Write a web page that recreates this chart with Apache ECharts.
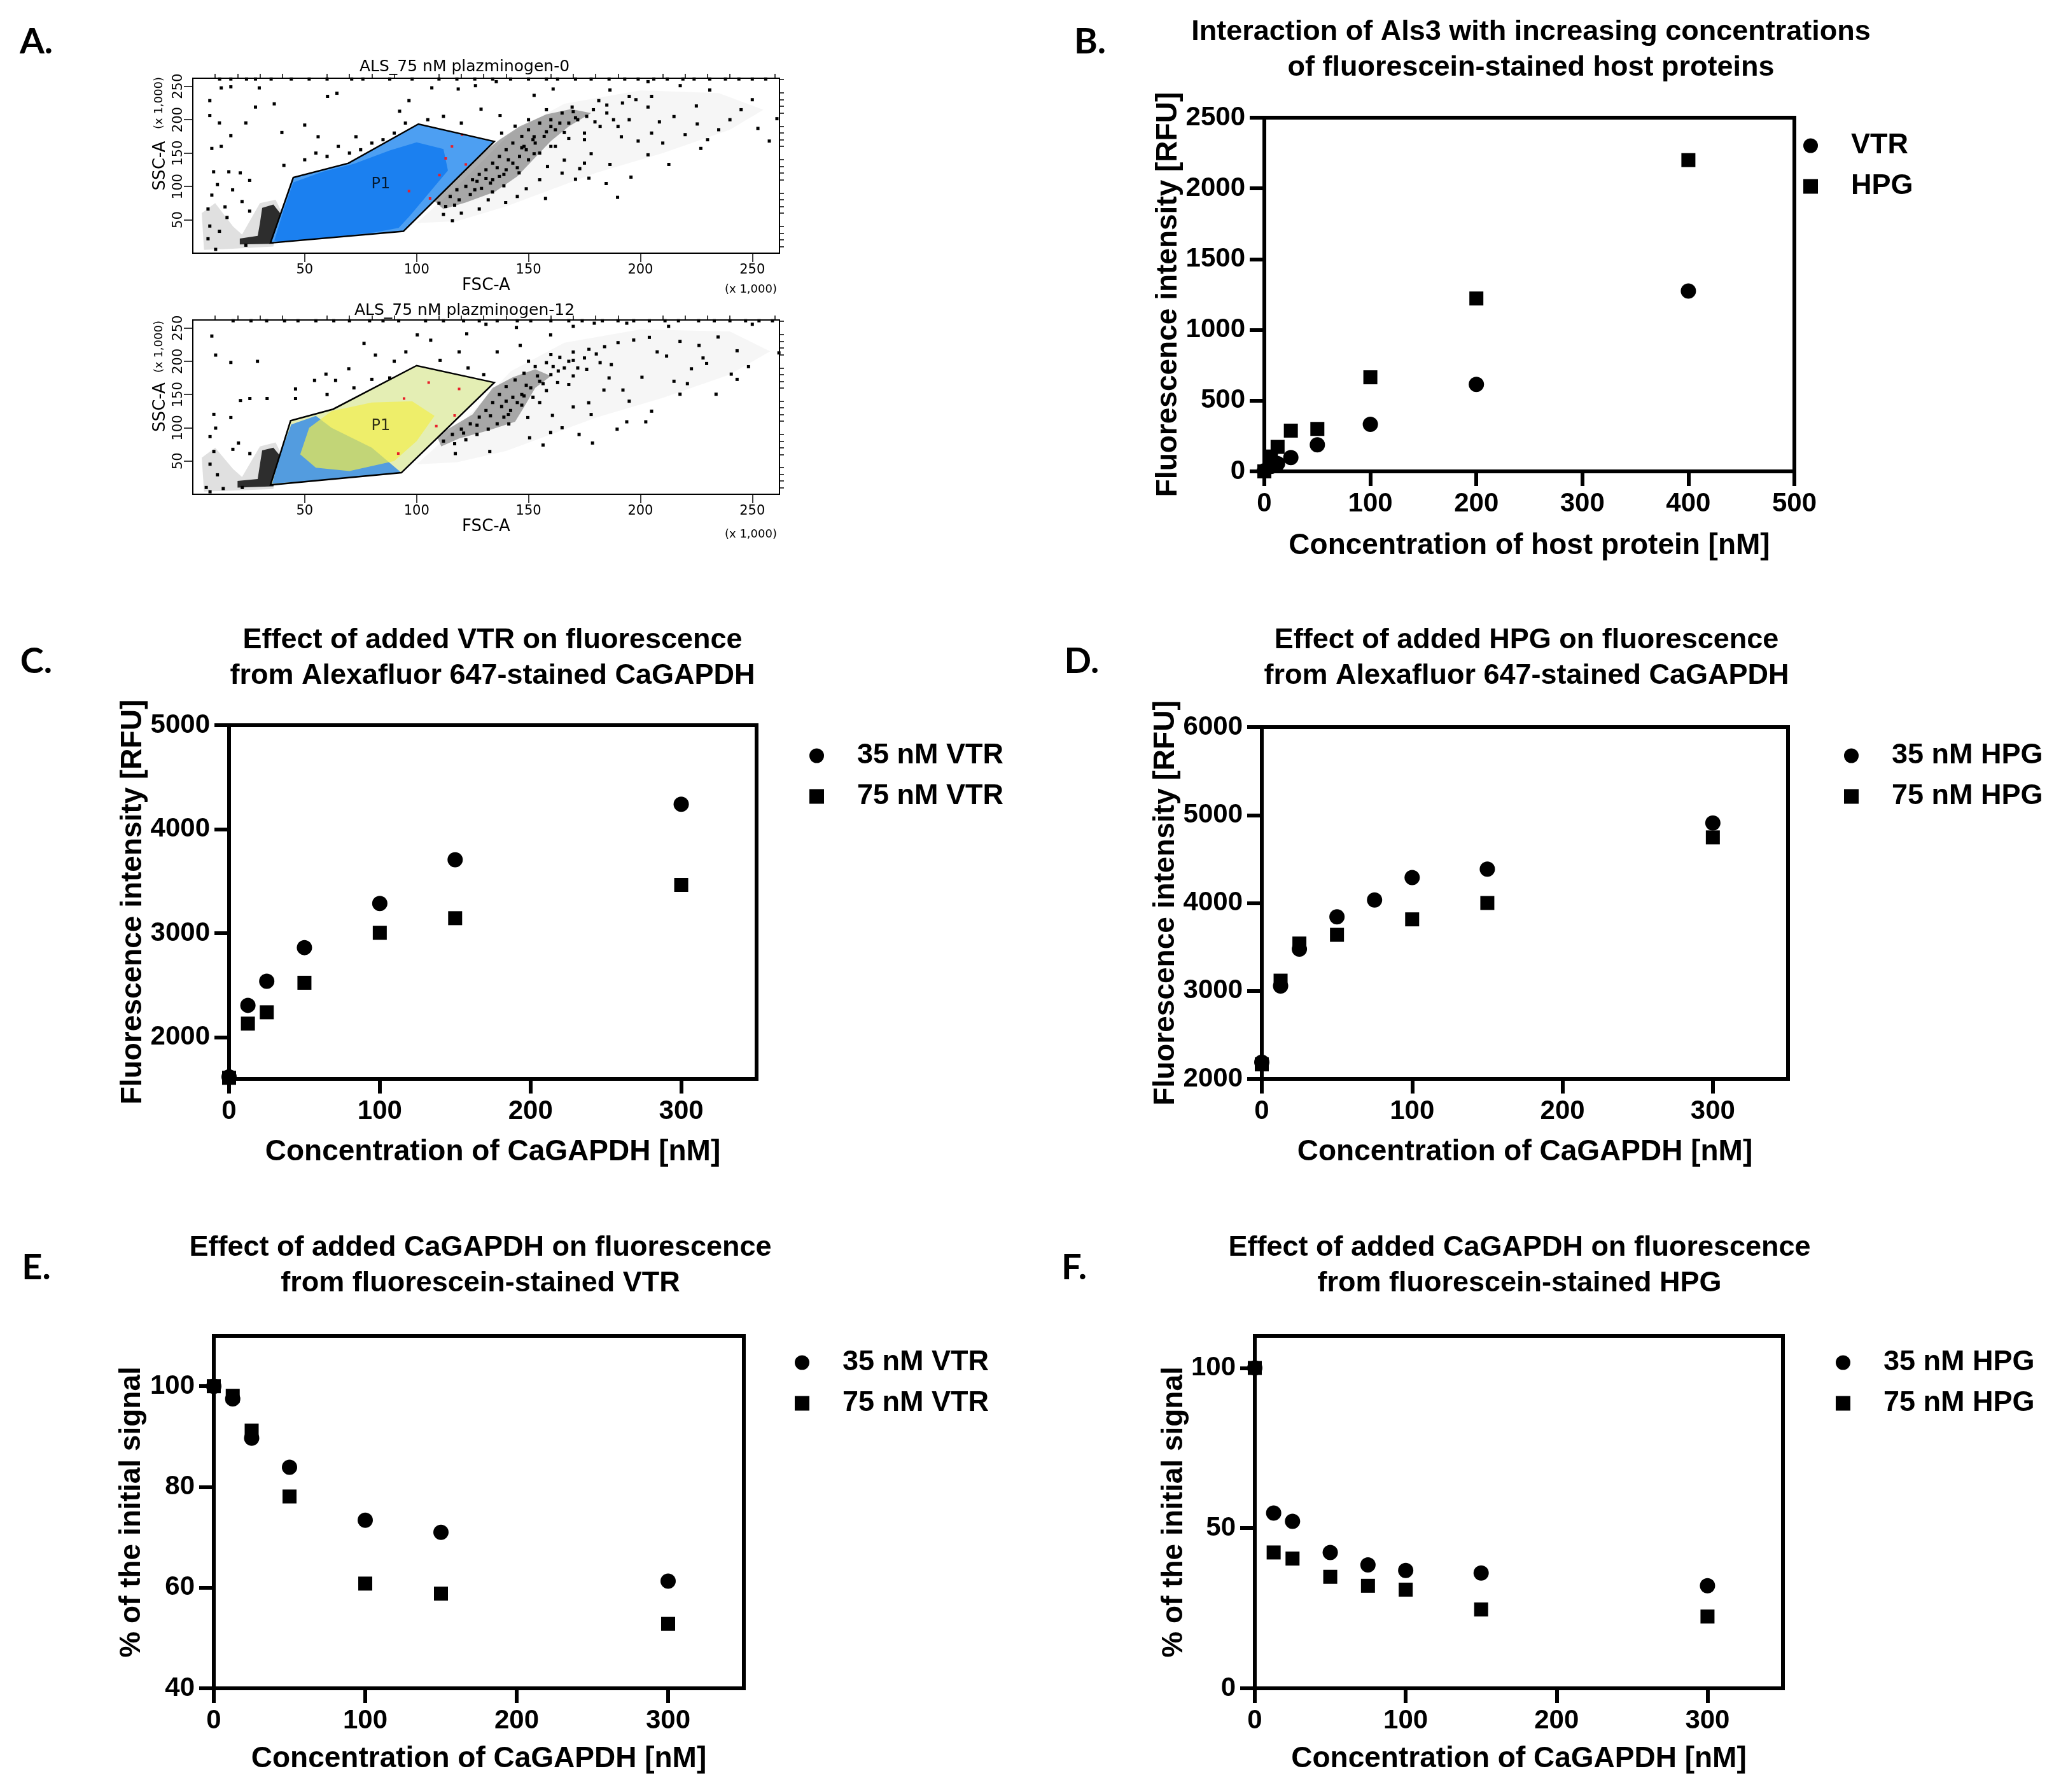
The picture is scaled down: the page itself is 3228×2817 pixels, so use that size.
<!DOCTYPE html>
<html>
<head>
<meta charset="utf-8">
<script src="https://cdn.jsdelivr.net/npm/echarts@6/dist/echarts.min.js"></script>
<style>
html,body{margin:0;padding:0;background:#fff}
#container{width:3228px;height:2817px}
</style>
</head>
<body>
<div id="container"></div>
<script>
// ---- B: Als3 + fluorescein host proteins ----
var bConc = [0, 6.25, 12.5, 25, 50, 100, 200, 400];
var bVTR = [5, 35, 55, 98, 188, 333, 615, 1275];
var bHPG = [0, 105, 173, 288, 300, 665, 1222, 2200];
var bXTicks = [0, 100, 200, 300, 400, 500];
var bYTicks = [0, 500, 1000, 1500, 2000, 2500];

// ---- C: VTR added to CaGAPDH ----
var cConc = [0, 12.5, 25, 50, 100, 150, 300];
var c35 = [1620, 2307, 2539, 2862, 3286, 3706, 4240];
var c75 = [1610, 2132, 2240, 2524, 3004, 3145, 3465];
var cXTicks = [0, 100, 200, 300];
var cYTicks = [2000, 3000, 4000, 5000];

// ---- D: HPG added to CaGAPDH ----
var dConc = [0, 12.5, 25, 50, 75, 100, 150, 300];
var d35 = [2190, 3056, 3476, 3842, 4035, 4290, 4385, 4910];
var d75 = [2165, 3117, 3539, 3638, null, 3814, 4000, 4746];
var dYTicks = [2000, 3000, 4000, 5000, 6000];

// ---- E: CaGAPDH added to VTR ----
var eConc = [0, 12.5, 25, 50, 100, 150, 300];
var e35 = [100, 97.5, 89.7, 83.9, 73.4, 71.0, 61.3];
var e75 = [100, 98.1, 91.2, 78.1, 60.8, 58.8, 52.8];
var eYTicks = [40, 60, 80, 100];

// ---- F: CaGAPDH added to HPG ----
var fConc = [0, 12.5, 25, 50, 75, 100, 150, 300];
var f35 = [100, 54.7, 52.1, 42.4, 38.5, 36.8, 36.0, 32.0];
var f75 = [100, 42.4, 40.5, 34.8, 32.0, 30.8, 24.6, 22.4];
var fYTicks = [0, 50, 100];

// ---- A: flow cytometry (FSC-A / SSC-A, x1000) ----
var aMajorTicks = [50, 100, 150, 200, 250];
var aMinorTicks = [10, 20, 30, 40, 60, 70, 80, 90, 110, 120, 130, 140, 160, 170, 180, 190, 210, 220, 230, 240, 260];

var gate1 = [[34.7,15.3],[44.9,113.3],[69.5,134.7],[100.8,193.5],[134.7,167.4],[94.1,32.8]];
var core1 = [[36.4,18.5],[40.7,66],[44.9,106],[58,122],[72,134],[88,154],[100,166],[112,156],[114,124],[106,92],[97,56],[92,38],[81.4,31.2],[59.3,23.2],[39,16.9]];
var dense1 = [[108,78],[120,124],[130,151],[137,170],[146,190],[158,208],[169,216],[178,210],[168,190],[160,168],[152,140],[145,115],[135,92],[122,76],[112,66]];
var light1 = [[100,45],[118,100],[142,180],[166,224],[200,244],[235,240],[255,215],[240,185],[210,150],[180,120],[160,95],[140,70],[118,48]];
var cluster1 = [[21,13],[21,22],[29,26],[30,45],[31,68],[36,73],[39,60],[36,14]];
var haze1 = [[5,5],[4,60],[10,75],[18,40],[22,28],[30,75],[37,80],[40,60],[36,10],[14,6]];
var red1 = [[115.8,160],[122,133],[110.2,117],[106,82],[96.6,93],[120.3,177.6],[113,142]];
var edge1 = [12,17,24,28,35,44,52,60,71,76,88,98,110,118,126,134,142,150,158,163,171,178,186,193,199,206,212,219,224,231,238,244,250,256];
var dots1 = [[250,230],[257.6,168],[261,201.5],[252.5,187],[231,244.5],[225,220.6],[227,157],[212.7,133],[215,204.7],[220,177.6],[203.4,147.4],[195.8,114],[189.8,83.7],[184.7,104.4],[177,112.4],[171,110.8],[157.6,82],[149,96.5],[139.8,75.8],[128,66.2],[116,48.7],[195,235],[186.4,244.5],[203.4,257],[217.8,251],[179.7,196.7],[169.5,219],[161,246],[152.5,236.5],[135.6,257],[126.3,251],[118.6,246],[106.8,247.8],[96.6,228.6],[92.4,212.7],[72.9,174.5],[56,174.5],[50,192],[39.8,180.8],[29.7,247.7],[17,249.3],[12.7,247.7],[7.6,228.6],[7.6,206.3],[11.9,195.2],[23.7,195.2],[28,219],[36.4,223.8],[60.2,235],[64.4,239.7],[8.5,157],[12.7,160],[17,176],[40.7,131.5],[9.3,122],[16.1,122],[21.2,120.3],[25.4,109.2],[11,102.8],[8.5,87],[17.8,94.9],[22,77.4],[6.8,66.2],[14.4,69.4],[15.3,53.5],[7.6,40.7],[11.9,32.8],[6.8,21.6],[10.2,5.7],[23.7,12],[25.4,63],[139,101],[133.9,91.7],[127,107.6],[145.8,120.3],[158.5,130],[166,139.4],[178,149],[191.5,174.5],[199,168],[208.5,196.7],[225.4,193.6],[166,180.8],[152.5,174.5],[144,190.4],[128.8,215.8],[137.3,206.3],[181.4,228.6],[203.4,219],[152.5,149],[186.4,133],[172.9,126.7],[150,200],[158,215],[172,200],[185,210],[190,190],[175,170],[160,160],[148,160],[138,180],[165,120],[175,135],[155,110],[145,85],[132,80],[120,60],[112,58],[160,190],[195,200],[205,180],[210,165],[230,170],[240,200],[245,215],[235,185],[50,140],[55,150],[60,145],[65,160],[75,155],[80,165],[85,170],[90,180],[95,195],[105,200],[112,205],[120,195],[70,150],
	[110,75],[115,85],[118,95],[122,100],[125,110],[128,118],[131,125],[134,135],[137,145],[140,155],[143,165],[147,175],[150,185],[155,195],[160,200],[165,210],[170,212],[176,205],[168,195],[162,185],[157,175],[153,165],[149,155],[146,145],[143,135],[140,125],[137,115],[133,105],[129,97],[124,88],[119,80],[113,70],[117,72],[126,95],[131,112],[136,128],[141,140],[147,158],[152,170],[158,182],[164,195],[171,203],[179,215],[185,222],[192,225],[198,230],[205,235],[188,200],[182,190],[175,180],[168,172],[162,160],[155,150],[150,140],[145,128],[139,118],[134,110]];

var gate2 = [[34.7,14.0],[43.7,110.6],[62.7,128],[100,193.5],[134.7,168],[93.2,32.5]];
var blue2 = [[35.5,16],[39,60],[44,105],[55,118],[62,100],[80,70],[93,33],[60,22]];
var yellow2 = [[48,60],[52,100],[62,125],[80,138],[98,140],[108,118],[100,80],[90,50],[70,35],[55,40]];
var dense2 = [[109,88],[125,120],[134,160],[143,176],[153,188],[160,178],[153,160],[148,131],[144,109],[132,96],[119,84],[111,72]];
var light2 = [[100,45],[118,100],[142,185],[166,228],[200,248],[240,245],[258,215],[240,180],[210,145],[180,115],[160,90],[140,65],[118,48]];
var cluster2 = [[20,10],[20,20],[29,23],[30,45],[31,66],[36,70],[39,58],[36,12]];
var haze2 = [[5,4],[4,55],[10,70],[18,38],[22,26],[30,72],[37,78],[40,58],[36,8],[14,5]];
var red2 = [[117,118.6],[108.8,102.6],[94.4,144],[91.8,61.2],[119,158.4],[105.4,168]];
var edge2 = [18,26,33,41,47,55,63,70,79,85,92,104,112,121,128,136,145,151,160,168,174,183,190,197,204,211,217,226,233,240,247,253,259];
var dots2 = [[8.5,238],[10.2,209.4],[17,198.3],[28.9,199.9],[21.3,141],[25.5,144],[33.2,144],[45.9,144],[45.9,158.4],[54.4,171.2],[76.5,227],[59.5,180.7],[63.8,171.2],[100.3,239.7],[106.3,231.7],[122.4,241.3],[131,255.7],[144.6,250.9],[159.9,239.7],[170,252.5],[179.4,257.3],[193.9,257.3],[212.6,252.5],[217.7,230],[226.2,223.8],[234.7,236.5],[243.2,215.8],[248.3,191.9],[261.9,212.6],[250,255.7],[240.6,180.7],[243.2,172.8],[233.8,150.5],[217.7,150.5],[221,166.4],[229.6,196.7],[222.8,188.7],[211.7,207.8],[207.5,214.2],[202.4,109],[193.9,109],[189.6,97.9],[178.6,77.1],[172.6,89.9],[159.9,93],[156.5,74],[150.5,85],[132.7,64.4],[117.3,61.2],[141.2,105.8],[149.7,115.4],[160.7,118.6],[170,131.3],[176.9,137.7],[183.7,156.8],[192.2,156.8],[200.7,176],[187,195],[180.3,211],[170,201.5],[163.3,185.5],[156.5,166.4],[146.3,223.8],[136,214.2],[119,214.2],[110.5,201.5],[95.2,214.2],[81.6,209.4],[69.7,188.7],[80,172.8],[17,115.4],[9.4,120.2],[10.2,99.5],[7.7,86.7],[20.4,77.1],[17.9,67.6],[25.5,61.2],[9.4,64.4],[7.7,45.3],[11,29.3],[6,10.2],[7.7,3.8],[13.6,8.6],[22.1,10.2],[150,200],[160,210],[172,190],[186,175],[168,165],[178,120],[165,100],[140,140],[147,150],[155,138],[130,180],[123,190],[115,180],[90,200],[100,185],[195,140],[205,125],[215,170],[228,205],[60,150],[72,160],[88,175],
	[112,80],[116,90],[120,98],[124,106],[128,116],[131,126],[134,138],[137,150],[140,162],[144,172],[148,182],[153,192],[158,198],[164,206],[170,214],[177,218],[184,222],[190,228],[197,232],[204,236],[166,190],[160,180],[155,170],[151,160],[148,148],[145,138],[142,126],[139,116],[136,106],[132,98],[127,90],[122,82],[117,76],[121,92],[127,104],[133,118],[138,132],[143,146],[149,164],[154,178],[161,192],[168,200],[175,205],[182,198],[176,188],[170,178],[163,168],[158,156],[152,146],[147,134],[141,120]];

var F = "'Liberation Sans', Arial, sans-serif";
var FA = "'DejaVu Sans', sans-serif";

function pts(xs, ys) {
	var out = [];
	for (var i = 0; i < xs.length; ++i) {
		if (ys[i] != null) out.push([xs[i], ys[i]]);
	}
	return out;
}
function edgePts(xs) {
	var out = [];
	for (var i = 0; i < xs.length; ++i) out.push([xs[i], 261]);
	return out;
}
function plain(v) { return String(v); }

// filled / outlined polygons for the cytometry panels
function poly(verts, ax, style, z) {
	return {
		type: 'custom', xAxisIndex: ax, yAxisIndex: ax, z: z, silent: true,
		data: [verts[0]],
		renderItem: function (params, api) {
			var p = verts.map(function (v) { return api.coord(v); });
			return { type: 'polygon', shape: { points: p }, style: style };
		}
	};
}
function dotSeries(data, ax, color, size, z) {
	return {
		type: 'scatter', xAxisIndex: ax, yAxisIndex: ax, z: z, silent: true,
		symbol: 'rect', symbolSize: size, itemStyle: { color: color, opacity: 1 },
		data: data, clip: true
	};
}

// cytometry axes (major with labels, minor ticks only)
function faxis(dim, grid, major) {
	var ax = {
		type: 'value', gridIndex: grid, min: 0, max: 262.144,
		splitLine: { show: false },
		axisLine: { show: major, onZero: false, lineStyle: { color: '#000', width: 2 } },
		axisTick: { show: true, length: major ? 14 : 7, lineStyle: { color: '#000', width: 1.5 },
			customValues: major ? aMajorTicks : aMinorTicks },
		axisLabel: { show: major, customValues: aMajorTicks, color: '#000', fontFamily: FA, fontSize: 21,
			margin: dim == 'x' ? 16 : 12, rotate: dim == 'y' ? 90 : 0 }
	};
	if (major) {
		ax.name = dim == 'x' ? 'FSC-A' : 'SSC-A';
		ax.nameLocation = 'middle';
		ax.nameGap = dim == 'x' ? 32 : 38;
		ax.nameTextStyle = { color: '#000', fontFamily: FA, fontSize: 26 };
	}
	return ax;
}

// prism style axes
function gaxis(grid, min, max, ticks, name, gap) {
	return {
		type: 'value', gridIndex: grid, min: min, max: max,
		splitLine: { show: false },
		axisLine: { show: true, onZero: false, lineStyle: { color: '#000', width: 6 } },
		axisTick: { show: true, length: 23, lineStyle: { color: '#000', width: 6 }, customValues: ticks },
		axisLabel: { customValues: ticks, formatter: plain, margin: 30, color: '#000', fontFamily: F, fontSize: 42, fontWeight: 'bold' },
		name: name, nameLocation: 'middle', nameGap: gap,
		nameTextStyle: { color: '#000', fontFamily: F, fontSize: 46, fontWeight: 'bold' }
	};
}

function marks(name, xs, ys, ax, sym) {
	return {
		type: 'scatter', name: name, xAxisIndex: ax, yAxisIndex: ax, z: sym == 'rect' ? 4 : 3,
		symbol: sym, symbolSize: sym == 'rect' ? 22 : 24,
		itemStyle: { color: '#000', opacity: 1 }, data: pts(xs, ys), clip: false
	};
}

function lgd(names, left, top) {
	return {
		data: names, orient: 'vertical', left: left, top: top, selectedMode: false,
		itemWidth: 23, itemHeight: 23, itemGap: 18,
		itemStyle: { color: '#000', opacity: 1 },
		textStyle: { color: '#000', fontFamily: F, fontSize: 45, fontWeight: 'bold', lineHeight: 46,
			padding: [0, 0, 0, 47] }
	};
}

function txt(s, x, y, font, rot) {
	return {
		type: 'text', x: x, y: y, rotation: rot || 0, silent: true,
		style: { text: s, font: font, fill: '#000', align: 'center', verticalAlign: 'middle', lineHeight: 56 }
	};
}

var gridBox = { show: true, borderColor: '#000', borderWidth: 6, backgroundColor: 'transparent' };
var grids = [
	{ left: 303, top: 123, width: 922, height: 275, show: true, borderColor: '#000', borderWidth: 2 },
	{ left: 303, top: 503, width: 922, height: 274, show: true, borderColor: '#000', borderWidth: 2 },
	Object.assign({ left: 1987, top: 185, width: 833, height: 556 }, gridBox),
	Object.assign({ left: 360, top: 1140, width: 829, height: 556 }, gridBox),
	Object.assign({ left: 1983, top: 1143, width: 827, height: 553 }, gridBox),
	Object.assign({ left: 336, top: 2100, width: 833, height: 554 }, gridBox),
	Object.assign({ left: 1972, top: 2100, width: 830, height: 554 }, gridBox)
];

var myChart = echarts.init(document.getElementById('container'), null, { renderer: 'canvas' });
var option = {
	animation: false,
	backgroundColor: '#fff',
	grid: grids,
	xAxis: [
		faxis('x', 0, true), faxis('x', 0, false),
		faxis('x', 1, true), faxis('x', 1, false),
		gaxis(2, 0, 500, bXTicks, 'Concentration of host protein [nM]', 94),
		gaxis(3, 0, 350, cXTicks, 'Concentration of CaGAPDH [nM]', 92),
		gaxis(4, 0, 350, cXTicks, 'Concentration of CaGAPDH [nM]', 92),
		gaxis(5, 0, 350, cXTicks, 'Concentration of CaGAPDH [nM]', 88),
		gaxis(6, 0, 350, cXTicks, 'Concentration of CaGAPDH [nM]', 88)
	],
	yAxis: [
		faxis('y', 0, true), faxis('y', 0, false),
		faxis('y', 1, true), faxis('y', 1, false),
		gaxis(2, 0, 2500, bYTicks, 'Fluorescence intensity [RFU]', 126),
		gaxis(3, 1600, 5000, cYTicks, 'Fluorescence intensity [RFU]', 123),
		gaxis(4, 2000, 6000, dYTicks, 'Fluorescence intensity [RFU]', 124),
		gaxis(5, 40, 110, eYTicks, '% of the initial signal', 106),
		gaxis(6, 0, 110, fYTicks, '% of the initial signal', 104)
	],
	legend: [
		lgd(['VTR', 'HPG'], 2829, 201),
		lgd(['35 nM VTR', '75 nM VTR'], 1267, 1160),
		lgd(['35 nM HPG', '75 nM HPG'], 2893, 1160),
		lgd(['35 nM VTR', '75 nM VTR'], 1244, 2114),
		lgd(['35 nM HPG', '75 nM HPG'], 2880, 2114)
	],
	series: [
		// A top
		poly(light1, 0, { fill: 'rgba(0,0,0,0.035)' }, 1),
		poly(haze1, 0, { fill: 'rgba(0,0,0,0.12)' }, 1),
		poly(dense1, 0, { fill: 'rgba(0,0,0,0.32)' }, 2),
		poly(cluster1, 0, { fill: 'rgba(0,0,0,0.8)' }, 2),
		dotSeries(dots1, 0, '#000', 5, 3),
		dotSeries(edgePts(edge1), 0, '#000', 5, 3),
		poly(gate1, 0, { fill: '#4d9ff2' }, 4),
		poly(core1, 0, { fill: '#1b80f0' }, 5),
		dotSeries(red1, 0, '#e8202a', 4, 6),
		poly(gate1, 0, { fill: 'none', stroke: '#000', lineWidth: 2.5 }, 7),
		{ type: 'scatter', xAxisIndex: 0, yAxisIndex: 0, z: 8, symbolSize: 0, silent: true, data: [[84, 103]],
			label: { show: true, position: 'inside', formatter: 'P1', fontFamily: FA, fontSize: 24, color: '#000' } },
		// A bottom
		poly(light2, 2, { fill: 'rgba(0,0,0,0.035)' }, 1),
		poly(haze2, 2, { fill: 'rgba(0,0,0,0.12)' }, 1),
		poly(dense2, 2, { fill: 'rgba(0,0,0,0.32)' }, 2),
		poly(cluster2, 2, { fill: 'rgba(0,0,0,0.8)' }, 2),
		dotSeries(dots2, 2, '#000', 5, 3),
		dotSeries(edgePts(edge2), 2, '#000', 5, 3),
		poly(gate2, 2, { fill: '#e4eeb4' }, 4),
		poly(blue2, 2, { fill: '#3a8de6', opacity: 0.85 }, 5),
		poly(yellow2, 2, { fill: '#f2ee4a', opacity: 0.7 }, 5),
		dotSeries(red2, 2, '#e8202a', 4, 6),
		poly(gate2, 2, { fill: 'none', stroke: '#000', lineWidth: 2.5 }, 7),
		{ type: 'scatter', xAxisIndex: 2, yAxisIndex: 2, z: 8, symbolSize: 0, silent: true, data: [[84, 103]],
			label: { show: true, position: 'inside', formatter: 'P1', fontFamily: FA, fontSize: 24, color: '#000' } },
		// B
		marks('VTR', bConc, bVTR, 4, 'circle'),
		marks('HPG', bConc, bHPG, 4, 'rect'),
		// C
		marks('35 nM VTR', cConc, c35, 5, 'circle'),
		marks('75 nM VTR', cConc, c75, 5, 'rect'),
		// D
		marks('35 nM HPG', dConc, d35, 6, 'circle'),
		marks('75 nM HPG', dConc, d75, 6, 'rect'),
		// E
		marks('35 nM VTR', eConc, e35, 7, 'circle'),
		marks('75 nM VTR', eConc, e75, 7, 'rect'),
		// F
		marks('35 nM HPG', fConc, f35, 8, 'circle'),
		marks('75 nM HPG', fConc, f75, 8, 'rect')
	],
	graphic: [
		txt('A.', 57, 66, "bold 56px Lato, 'Open Sans', sans-serif"),
		txt('B.', 1713, 66, "bold 56px Lato, 'Open Sans', sans-serif"),
		txt('C.', 57, 1040, "bold 56px Lato, 'Open Sans', sans-serif"),
		txt('D.', 1700, 1040, "bold 56px Lato, 'Open Sans', sans-serif"),
		txt('E.', 57, 1993, "bold 56px Lato, 'Open Sans', sans-serif"),
		txt('F.', 1688, 1993, "bold 56px Lato, 'Open Sans', sans-serif"),
		txt('Interaction of Als3 with increasing concentrations\nof fluorescein-stained host proteins', 2406, 79, "bold 45px 'Liberation Sans', Arial, sans-serif"),
		txt('Effect of added VTR on fluorescence\nfrom Alexafluor 647-stained CaGAPDH', 774, 1035, "bold 45px 'Liberation Sans', Arial, sans-serif"),
		txt('Effect of added HPG on fluorescence\nfrom Alexafluor 647-stained CaGAPDH', 2399, 1035, "bold 45px 'Liberation Sans', Arial, sans-serif"),
		txt('Effect of added CaGAPDH on fluorescence\nfrom fluorescein-stained VTR', 755, 1990, "bold 45px 'Liberation Sans', Arial, sans-serif"),
		txt('Effect of added CaGAPDH on fluorescence\nfrom fluorescein-stained HPG', 2388, 1990, "bold 45px 'Liberation Sans', Arial, sans-serif"),
		txt('ALS_75 nM plazminogen-0', 730, 105, "25px 'DejaVu Sans', sans-serif"),
		txt('ALS_75 nM plazminogen-12', 730, 488, "25px 'DejaVu Sans', sans-serif"),
		txt('(x 1,000)', 1180, 455, "18px 'DejaVu Sans', sans-serif"),
		txt('(x 1,000)', 1180, 840, "18px 'DejaVu Sans', sans-serif"),
		txt('(x 1,000)', 250, 162, "18px 'DejaVu Sans', sans-serif", Math.PI / 2),
		txt('(x 1,000)', 250, 545, "18px 'DejaVu Sans', sans-serif", Math.PI / 2)
	]
};
myChart.setOption(option);
</script>
</body>
</html>
